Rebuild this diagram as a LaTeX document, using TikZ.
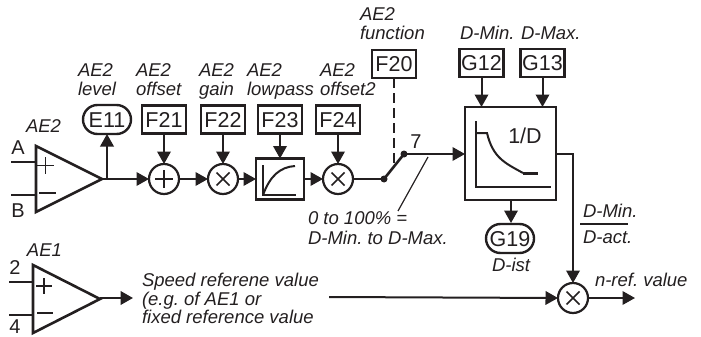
\documentclass[tikz,border=0pt]{standalone}
\usepackage{fontspec}
\setmainfont{Liberation Sans}
\usetikzlibrary{arrows.meta,shapes.misc}
\definecolor{ink}{HTML}{231F20}
\frenchspacing
\tikzset{
  x=1pt,y=-1pt,
  every path/.style={color=ink},
  every node/.style={text=ink,font=\fontsize{20}{20}\selectfont,inner sep=0pt,outer sep=0pt},
  wire/.style={line width=2pt,-{Triangle[length=12.5pt,width=13.5pt]}},
  plain/.style={line width=2pt},
  param/.style={draw,line width=2.6pt,font=\fontsize{21.5}{21.5}\selectfont,minimum width=44pt,minimum height=28pt,text height=15pt,text depth=0pt},
  disp/.style={draw,rounded rectangle,line width=2.4pt,font=\fontsize{21.5}{21.5}\selectfont,minimum width=48pt,minimum height=29pt,text height=15pt,text depth=0pt},
  sumj/.style={draw,circle,line width=2.2pt,minimum size=30pt},
  lab/.style={anchor=base west,font=\fontsize{18.5}{18.5}\selectfont\itshape},
  amp/.style={line width=2.6pt,line join=miter},
  dotn/.style={circle,fill=ink,minimum size=7pt},
  sym/.style={line width=1.6pt}
}
\begin{document}
\begin{tikzpicture}
\useasboundingbox (0,0) rectangle (701,337);
% AE2 amplifier
\draw[amp] (36,146) -- (102,179) -- (36,212) -- cycle;
\coordinate (a2out) at (102,179);
\coordinate (a2in) at (36,162);\coordinate (a2inb) at (36,195);
\coordinate (a) at (11,162);\coordinate (b) at (11,195);
\draw[plain] (a) -- (a2in); \draw[plain] (b) -- (a2inb);
\draw[sym] (37,165.5) -- (54,165.5) (45.5,157) -- (45.5,174);
\draw[sym] (39,193) -- (56,193);
\node at (18,148) {A};
\node at (18,211) {B};
\node[lab] at (26,132) {AE2};
% AE1 amplifier
\draw[amp] (33,265) -- (100,299) -- (33,333) -- cycle;
\coordinate (a1out) at (100,298);
\coordinate (a1in) at (33,282);\coordinate (a1inb) at (33,315);
\coordinate (c) at (9,282);\coordinate (d) at (9,315);
\draw[plain] (c) -- (a1in); \draw[plain] (d) -- (a1inb);
\draw[sym] (36,286) -- (52,286) (44,278) -- (44,294);
\draw[sym] (37,313) -- (53,313);
\node at (15,268) {2};
\node at (15,327) {4};
\node[lab] at (27,256) {AE1};
% parameter boxes
\node[disp]  (e11) at (107,119.5) {E11};
\node[param] (f21) at (164,119.5) {F21};
\node[param] (f22) at (223,119.5) {F22};
\node[param] (f23) at (280,119.5) {F23};
\node[param] (f24) at (338,119.5) {F24};
\node[param] (f20) at (394,64) {F20};
\node[param] (g12) at (481.5,63) {G12};
\node[param] (g13) at (542.5,63) {G13};
% junctions
\node[sumj] (s1) at (164,179) {};
\draw[sym] (s1.center) +(-9,0) -- +(9,0) (s1.center) +(0,-9) -- +(0,9);
\node[sumj] (m1) at (223,179) {};
\node[sumj] (m2) at (338,179) {};
\node[sumj] (m3) at (573,298) {};
\foreach \n in {m1,m2,m3}
  \draw[sym] (\n.center) +(-6.5,-6.5) -- +(6.5,6.5) (\n.center) +(-6.5,6.5) -- +(6.5,-6.5);
% lowpass
\node[draw,line width=2.6pt,minimum width=48pt,minimum height=41pt] (lp) at (280,179) {};
\draw[line width=1.4pt] (263,165) -- (263,195) -- (296,195);
\draw[line width=2pt] (263,195) .. controls (270,176) and (280,167) .. (295,166);
% 1/D box
\node[draw,line width=2pt,minimum width=91pt,minimum height=93pt] (dbox) at (510.5,153.5) {};
\draw[line width=1.5pt] (476,121) -- (476,187) -- (551,187);
\draw[line width=2pt] (476,133) -- (487,133) .. controls (493,158) and (505,163) .. (523,173);
\draw[line width=3pt] (523,173) -- (538,173);
\node[font=\fontsize{21.5}{21.5}\selectfont] at (525,135.5) {1/D};
% G19
\node[disp] (g19) at (510,238.5) {G19};
% switch
\node[dotn] (sw1) at (384,179) {};
\node[dotn] (sw2) at (404,154) {};
\draw[line width=2.6pt] (sw1.center) -- (sw2.center);
\node at (416,142) {7};
\coordinate (dashend) at (394,165);
\draw[line width=2pt,dash pattern=on 10pt off 5pt] (f20.south) -- (dashend);
\coordinate (sl1) at (428,157);\coordinate (sl2) at (398,211);
\draw[line width=1.2pt] (sl1) -- (sl2);
% connectors
\draw[wire] (a2out) -- (s1.west);
\coordinate (tap) at (107,179);
\draw[wire] (tap) -- (e11.south);
\draw[wire] (f21) -- (s1);
\draw[wire] (f22) -- (m1);
\draw[wire] (f23.south) -- (lp.north);
\draw[wire] (f24) -- (m2);
\draw[wire] (s1) -- (m1);
\draw[wire] (m1) -- (lp);
\draw[wire] (lp) -- (m2);
\draw[plain] (m2) -- (sw1);
\draw[wire] (sw2.center) -- (sw2.center -| dbox.west);
\draw[wire] (g12.south) -- (g12.south |- dbox.north);
\draw[wire] (g13.south) -- (g13.south |- dbox.north);
\draw[wire] (dbox.south -| g19) ++(1,0) -- ++(0,23);
\draw[wire] (dbox.east |- sw2) -- (573,154) -- (m3.north);
\draw[wire,line width=2.4pt] (a1out) -- (133,298);
\coordinate (textend) at (329,297);
\draw[wire] (textend) -- (m3.west);
\coordinate (nref) at (635,298);
\draw[wire] (m3.east) -- (nref);
% labels
\node[lab] at (78,77) {AE2};
\node[lab] at (78,95) {level};
\node[lab] at (136,77) {AE2};
\node[lab] at (136,95) {offset};
\node[lab] at (199,77) {AE2};
\node[lab] at (199,95) {gain};
\node[lab] at (247,77) {AE2};
\node[lab] at (247,95) {lowpass};
\node[lab] at (320,77) {AE2};
\node[lab] at (320,95) {offset2};
\node[lab] at (360,21) {AE2};
\node[lab] at (360,40) {function};
\node[lab] at (460,40) {D-Min.};
\node[lab] at (521,40) {D-Max.};
\node[lab] at (308,224) {0 to 100\% =};
\node[lab] at (308,244) {D-Min. to D-Max.};
\node[lab] at (492,271) {D-ist};
\coordinate (f1) at (580,224);\coordinate (f2) at (628,224);
\draw[line width=1.5pt] (f1) -- (f2);
\node[lab] at (583,217) {D-Min.};
\node[lab] at (583,243) {D-act.};
\node[lab] at (595,286) {n-ref. value};
\node[lab] at (142,286) {Speed referene value};
\node[lab] at (142,305) {(e.g. of AE1 or};
\node[lab] at (142,323) {fixed reference value};
\end{tikzpicture}
\end{document}
